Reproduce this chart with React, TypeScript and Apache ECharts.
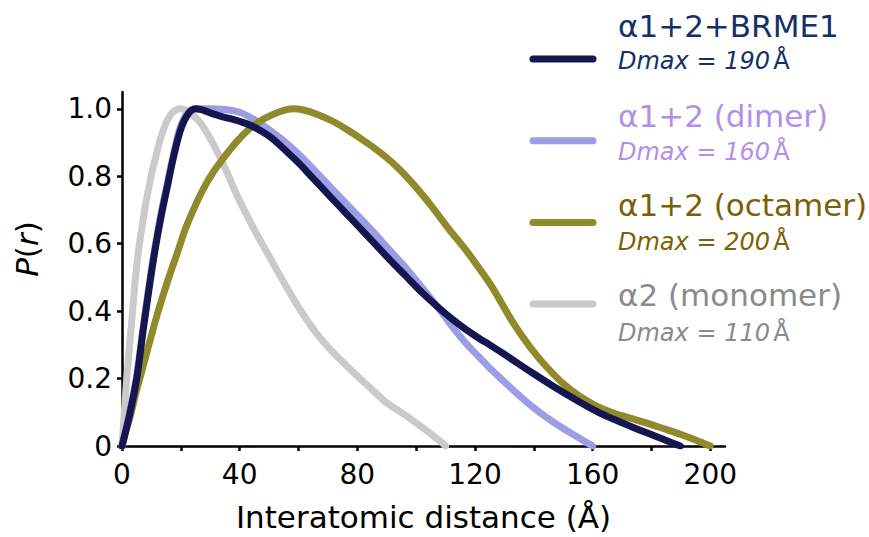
import React, { useEffect, useRef } from "react";
import * as echarts from "echarts";

const seriesNames = ["α1+2+BRME1", "α1+2 (dimer)", "α1+2 (octamer)", "α2 (monomer)"];
const dmaxValues = ["190", "160", "200", "110"];
const lineColors = ["#15154f", "#9d9de6", "#8f8a2b", "#cacaca"];
const textColors = ["#13306a", "#b38fe8", "#7c5f06", "#8a8a8a"];

const xTickLabels = [0, 40, 80, 120, 160, 200];
const xTickMarks = [0, 20, 40, 60, 80, 100, 120, 140, 160, 180, 200];
const yTickLabels = [0, 0.2, 0.4, 0.6, 0.8, 1.0];

const brme1: number[][] = [
  [0, 0], [2.5, 0.09], [5, 0.2], [7.3, 0.35], [9.6, 0.49], [11.4, 0.59], [13.5, 0.69], [15.3, 0.765],
  [17.6, 0.86], [20, 0.94], [22.5, 0.985], [25, 1.0], [28, 0.995], [31, 0.985], [34, 0.977],
  [38, 0.968], [41, 0.96], [44, 0.95], [47, 0.936], [51, 0.913], [54.4, 0.886], [60, 0.84],
  [64, 0.803], [70, 0.747], [73.8, 0.712], [80, 0.655], [85.2, 0.607], [91, 0.553], [96.6, 0.503],
  [102, 0.455], [107.9, 0.408], [112, 0.378], [117, 0.345], [121.6, 0.318], [125, 0.3],
  [130, 0.272], [138.6, 0.222], [147, 0.175], [155.7, 0.13], [162, 0.1], [167, 0.08],
  [173, 0.058], [178.4, 0.039], [184, 0.02], [189.8, 0],
];

const dimer: number[][] = [
  [0, 0], [2.5, 0.095], [5, 0.21], [7.3, 0.36], [9.6, 0.5], [11.4, 0.6], [13.5, 0.7], [15.3, 0.775],
  [17.6, 0.87], [20, 0.95], [22.5, 0.99], [25, 1.0], [30, 1.0], [35, 0.998], [40, 0.99],
  [45, 0.968], [50, 0.938], [55, 0.905], [60, 0.866], [64, 0.831], [70, 0.776], [73.8, 0.741],
  [80, 0.685], [85.2, 0.637], [91, 0.581], [96.6, 0.527], [102, 0.47], [107.9, 0.405], [112, 0.357],
  [117, 0.304], [121.6, 0.262], [125, 0.231], [130, 0.19], [133, 0.166], [139, 0.12],
  [144.3, 0.085], [150, 0.052], [155, 0.026], [160, 0],
];

const octamer: number[][] = [
  [0, 0], [1.5, 0.05], [2.8, 0.088], [4.5, 0.15], [6.2, 0.205], [8.5, 0.28], [11, 0.36],
  [13, 0.42], [15, 0.475], [16.5, 0.515], [18.7, 0.57], [21.6, 0.645], [24.5, 0.705], [27.8, 0.765],
  [31, 0.812], [35.2, 0.862], [39, 0.903], [43.2, 0.94], [47, 0.964], [51, 0.982], [54.5, 0.994],
  [57.9, 1.0], [62, 0.996], [66, 0.985], [71.5, 0.964], [77, 0.936], [83, 0.901], [89, 0.862],
  [94.3, 0.821], [100, 0.767], [105.6, 0.707], [111, 0.645], [117, 0.58], [122, 0.52],
  [126, 0.469], [133, 0.365], [138.6, 0.295], [144.3, 0.235], [150, 0.185], [155.7, 0.147],
  [161, 0.12], [167, 0.098], [173, 0.082], [178.4, 0.068], [184, 0.052], [189.8, 0.035],
  [195, 0.018], [200, 0],
];

const monomer: number[][] = [
  [0, 0], [0.8, 0.1], [1.6, 0.2], [2.6, 0.3], [3.6, 0.4], [4.6, 0.5], [5.6, 0.58], [6.8, 0.65],
  [8, 0.715], [9.2, 0.77], [10.4, 0.82], [11.7, 0.865], [13.2, 0.915], [15, 0.958], [17, 0.988],
  [19.9, 1.0], [22, 0.995], [24, 0.982], [26.7, 0.958], [30, 0.912], [33, 0.862], [36, 0.806],
  [38, 0.765], [40, 0.727], [43, 0.675], [46, 0.625], [48.9, 0.58], [51, 0.548], [53.4, 0.51],
  [55.7, 0.475], [57.9, 0.442], [62, 0.385], [65.9, 0.337], [70, 0.294], [73.8, 0.26],
  [78, 0.224], [81.5, 0.195], [85.2, 0.166], [90, 0.128], [96.6, 0.09], [101, 0.062],
  [105, 0.036], [109, 0.008], [110, 0],
];

const seriesData = [brme1, dimer, octamer, monomer];
const drawOrder = [3, 1, 2, 0];

const FONT = "DejaVu Sans";

export default function App() {
  const ref = useRef<HTMLDivElement>(null);
  useEffect(() => {
    if (!ref.current) return;
    const chart = echarts.init(ref.current, null, { renderer: "svg" });

    const graphics: any[] = [];
    seriesNames.forEach((name, i) => {
      const lineY = 59 + 81.7 * i;
      graphics.push({
        type: "line",
        shape: { x1: 533, y1: lineY, x2: 593, y2: lineY },
        style: { stroke: lineColors[i], lineWidth: 7, lineCap: "round" },
      });
      graphics.push({
        type: "text",
        x: 618,
        y: 26 + 89.5 * i,
        style: {
          text: name,
          font: `31px "${FONT}"`,
          fill: textColors[i],
          verticalAlign: "middle",
        },
      });
      graphics.push({
        type: "text",
        x: 618,
        y: 61 + 90.5 * i,
        style: {
          text: `{i|Dmax = ${dmaxValues[i]}} {n|Å}`,
          fill: textColors[i],
          verticalAlign: "middle",
          rich: {
            i: { font: `italic 24px "${FONT}"`, fontFamily: FONT, fontSize: 24, fontStyle: "italic", fill: textColors[i] },
            n: { font: `24px "${FONT}"`, fontFamily: FONT, fontSize: 24, fill: textColors[i] },
          },
        },
      });
    });
    graphics.push({
      type: "text",
      x: 27,
      y: 249,
      rotation: Math.PI / 2,
      style: {
        text: "{i|P}({i|r})",
        font: `31px "${FONT}"`,
        fill: "#000",
        align: "center",
        verticalAlign: "middle",
        rich: {
          i: { font: `italic 31px "${FONT}"`, fontFamily: FONT, fontSize: 31, fontStyle: "italic", fill: "#000" },
        },
      },
    });

    chart.setOption({
      animation: false,
      backgroundColor: "#ffffff",
      grid: { left: 122, right: 144, top: 92, bottom: 87, containLabel: false },
      xAxis: {
        type: "value",
        min: 0,
        max: 205,
        name: "Interatomic distance (Å)",
        nameLocation: "middle",
        nameGap: 55,
        nameTextStyle: { fontFamily: FONT, fontSize: 31, color: "#000" },
        axisLine: { show: true, lineStyle: { color: "#000", width: 2.5 } },
        axisTick: {
          show: true,
          customValues: xTickMarks,
          length: 5,
          lineStyle: { color: "#000", width: 2.5 },
        },
        axisLabel: {
          customValues: xTickLabels,
          fontFamily: FONT,
          fontSize: 28,
          color: "#000",
          margin: 14,
        },
        splitLine: { show: false },
      },
      yAxis: {
        type: "value",
        min: 0,
        max: 1.05,
        axisLine: { show: true, lineStyle: { color: "#000", width: 2.5 } },
        axisTick: {
          show: true,
          customValues: yTickLabels,
          length: 5,
          lineStyle: { color: "#000", width: 2.5 },
        },
        axisLabel: {
          customValues: yTickLabels,
          fontFamily: FONT,
          fontSize: 28,
          color: "#000",
          margin: 10,
          formatter: (v: number) => (v === 0 ? "0" : v.toFixed(1)),
        },
        splitLine: { show: false },
      },
      series: drawOrder.map((i, k) => ({
        name: seriesNames[i],
        type: "line",
        data: seriesData[i],
        showSymbol: false,
        symbol: "none",
        smooth: 0.35,
        z: 2 + k,
        lineStyle: { color: lineColors[i], width: 7, cap: "round", join: "round" },
      })),
      graphic: graphics,
    });

    return () => chart.dispose();
  }, []);

  return (
    <div
      ref={ref}
      style={{ position: "fixed", left: 0, top: 0, width: 869, height: 537 }}
    />
  );
}
